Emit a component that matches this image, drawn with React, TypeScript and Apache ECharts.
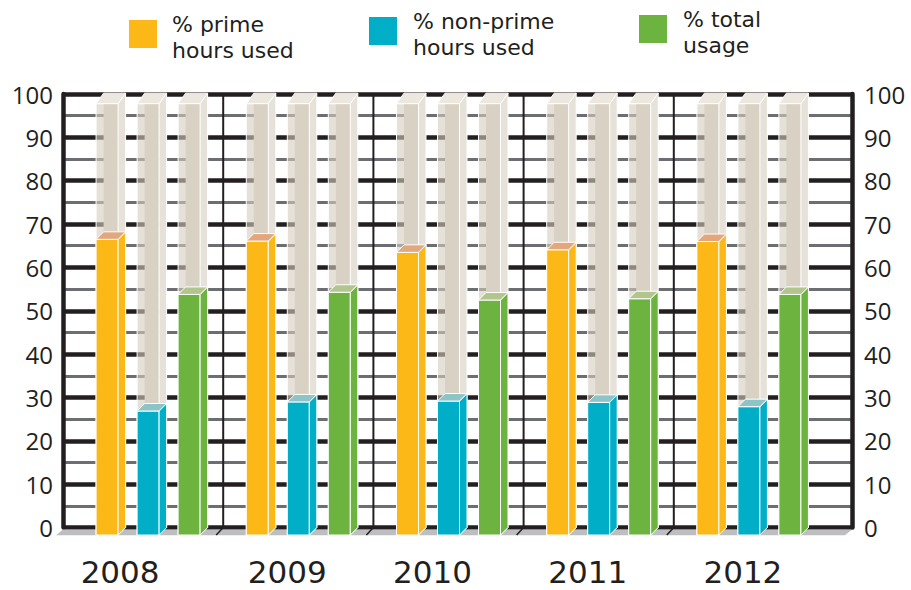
import React, { useEffect, useRef } from "react";
import * as echarts from "echarts";

const years = ["2008", "2009", "2010", "2011", "2012"];
const primeUsed = [68.2, 67.8, 65.2, 65.8, 67.7];
const nonPrimeUsed = [28.6, 30.7, 30.9, 30.6, 29.6];
const totalUsage = [55.5, 56.0, 54.2, 54.5, 55.5];
const capacity = [99.5, 99.5, 99.5, 99.5, 99.5];
const seriesNames = ["% prime\nhours used", "% non-prime\nhours used", "% total\nusage"];

const INK = "#231f20";
const seriesDefs = [
  { name: seriesNames[0], values: primeUsed, color: "#fbb817", top: "#e2a77c", slot: -1 },
  { name: seriesNames[1], values: nonPrimeUsed, color: "#00aec7", top: "#8cc4c8", slot: 0 },
  { name: seriesNames[2], values: totalUsage, color: "#6db33f", top: "#b1c68c", slot: 1 },
];
const legendPos = [
  { sx: 129, sy: 20, tx: 172, ty: 11 },
  { sx: 369, sy: 17, tx: 413, ty: 8 },
  { sx: 639, sy: 15, tx: 683, ty: 6 },
];
// leftward shift of each year label (layout only)
const labelShift = [28, 11, 16, 11, 6];

function makeBarRender(slot: number, color: string, topColor: string) {
  return (params: any, api: any) => {
    const cat = api.value(0);
    const v = api.value(1);
    const cap = api.value(2);
    const band = api.size([1, 0])[0];
    const w = band * 0.1465;
    const gap = band * 0.273;
    const d = 7.5;
    const gd = 10.5;
    const [cx, yv] = api.coord([cat, v]);
    const y0 = api.coord([cat, 0])[1];
    const yc = api.coord([cat, cap])[1];
    const x = cx + slot * gap - w / 2;
    const fb = y0 + d;
    const ft = yv + d;
    const gt = yc + d;
    const edge = { stroke: "#ffffff", lineWidth: 1 };
    return {
      type: "group",
      children: [
        { type: "rect", shape: { x, y: gt, width: w, height: fb - gt }, style: { fill: "rgba(214,205,190,0.6)", ...edge } },
        { type: "rect", shape: { x: x + d, y: gt, width: w - d, height: fb - gt }, style: { fill: "#d9d1c3" } },
        { type: "polygon", shape: { points: [[x + w, gt], [x + w + d, gt - gd], [x + w + d, y0], [x + w, fb]] }, style: { fill: "#e6e2d9", ...edge } },
        { type: "polygon", shape: { points: [[x, gt], [x + d, gt - gd], [x + w + d, gt - gd], [x + w, gt]] }, style: { fill: "#ece8e0", ...edge } },
        { type: "rect", shape: { x, y: ft, width: w, height: fb - ft }, style: { fill: color, ...edge } },
        { type: "polygon", shape: { points: [[x + w, ft], [x + w + d, ft - d], [x + w + d, fb - d], [x + w, fb]] }, style: { fill: color, ...edge } },
        { type: "polygon", shape: { points: [[x, ft], [x + d, ft - d], [x + w + d, ft - d], [x + w, ft]] }, style: { fill: topColor, ...edge } },
      ],
    };
  };
}

export default function App() {
  const ref = useRef<HTMLDivElement>(null);
  useEffect(() => {
    if (!ref.current) return;
    const chart = echarts.init(ref.current, null, { renderer: "svg" });
    const yAxisBase = {
      type: "value",
      min: 0,
      max: 100,
      interval: 10,
      axisTick: { show: false },
      axisLabel: { fontFamily: "Open Sans", fontSize: 24, color: INK },
    };
    const labelFont = { fontFamily: "DejaVu Sans", fontSize: 31, color: INK };
    const rich: any = {};
    labelShift.forEach((s, i) => {
      rich["y" + i] = { ...labelFont, padding: [0, s * 2, 0, 0] };
    });
    const option: any = {
      animation: false,
      backgroundColor: "#ffffff",
      grid: [
        { left: 63, right: 59, top: 94, bottom: 62.5 },
        { left: 73, width: 751, top: 94, bottom: 62.5 },
      ],
      xAxis: [
        { type: "value", gridIndex: 0, min: 0, max: 1, show: false },
        {
          type: "category",
          gridIndex: 1,
          data: years,
          boundaryGap: true,
          axisLine: { show: false },
          axisTick: { show: false },
          splitLine: { show: false },
          axisLabel: {
            ...labelFont,
            margin: 29,
            interval: 0,
            hideOverlap: false,
            formatter: (value: string, index: number) => `{y${index}|${value}}`,
            rich,
          },
        },
      ],
      yAxis: [
        {
          ...yAxisBase,
          gridIndex: 0,
          position: "left",
          axisLine: { show: true, onZero: false, lineStyle: { color: INK, width: 4.5 } },
          axisLabel: { ...yAxisBase.axisLabel, margin: 10 },
          splitLine: { show: true, lineStyle: { color: INK, width: 4.5 } },
          minorTick: { show: false, splitNumber: 2 },
          minorSplitLine: { show: true, lineStyle: { color: "#6d6e71", width: 3 } },
        },
        {
          ...yAxisBase,
          gridIndex: 0,
          position: "right",
          axisLine: { show: true, onZero: false, lineStyle: { color: INK, width: 4.5 } },
          axisLabel: { ...yAxisBase.axisLabel, margin: 12 },
          splitLine: { show: false },
        },
        { type: "value", gridIndex: 1, min: 0, max: 100, show: false },
      ],
      graphic: seriesDefs.flatMap((s, i) => [
        {
          type: "rect",
          x: legendPos[i].sx,
          y: legendPos[i].sy,
          shape: { x: 0, y: 0, width: 28, height: 28 },
          style: { fill: s.color },
        },
        {
          type: "text",
          x: legendPos[i].tx,
          y: legendPos[i].ty,
          style: {
            text: s.name,
            font: '22px "DejaVu Sans"',
            fill: INK,
            lineHeight: 26,
            textAlign: "left",
            textVerticalAlign: "top",
            align: "left",
            verticalAlign: "top",
          },
        },
      ]),
      series: [
        {
          type: "custom",
          name: "floor",
          xAxisIndex: 0,
          yAxisIndex: 0,
          z: 1,
          silent: true,
          data: [[0, 0]],
          renderItem: (params: any, api: any) => {
            const [l, y0] = api.coord([0, 0]);
            const r = api.coord([1, 0])[0];
            return {
              type: "polygon",
              shape: { points: [[l, y0 + 2], [r, y0 + 2], [r - 7, y0 + 7.7], [l - 7, y0 + 7.7]] },
              style: { fill: "#bcbec0" },
            };
          },
        },
        {
          type: "custom",
          name: "dividers",
          xAxisIndex: 1,
          yAxisIndex: 2,
          z: 1,
          silent: true,
          data: years.slice(1).map((_, i) => [i + 1, 0]),
          renderItem: (params: any, api: any) => {
            const band = api.size([1, 0])[0];
            const [cx, y0] = api.coord([api.value(0), 0]);
            const yt = api.coord([api.value(0), 100])[1];
            const x = cx - band / 2;
            return {
              type: "group",
              children: [
                { type: "line", shape: { x1: x, y1: yt, x2: x, y2: y0 }, style: { stroke: INK, lineWidth: 2 } },
                { type: "line", shape: { x1: x, y1: y0, x2: x - 7, y2: y0 + 7.5 }, style: { stroke: INK, lineWidth: 1.5 } },
              ],
            };
          },
        },
        ...seriesDefs.map((s) => ({
          type: "custom",
          name: s.name,
          xAxisIndex: 1,
          yAxisIndex: 2,
          z: 3,
          encode: { x: 0, y: 1 },
          data: years.map((_, i) => [i, s.values[i], capacity[i]]),
          renderItem: makeBarRender(s.slot, s.color, s.top),
        })),
      ],
    };
    chart.setOption(option);
    return () => chart.dispose();
  }, []);
  return (
    <div
      ref={ref}
      style={{ position: "fixed", left: 0, top: 0, width: 911, height: 590, background: "#fff" }}
    />
  );
}
